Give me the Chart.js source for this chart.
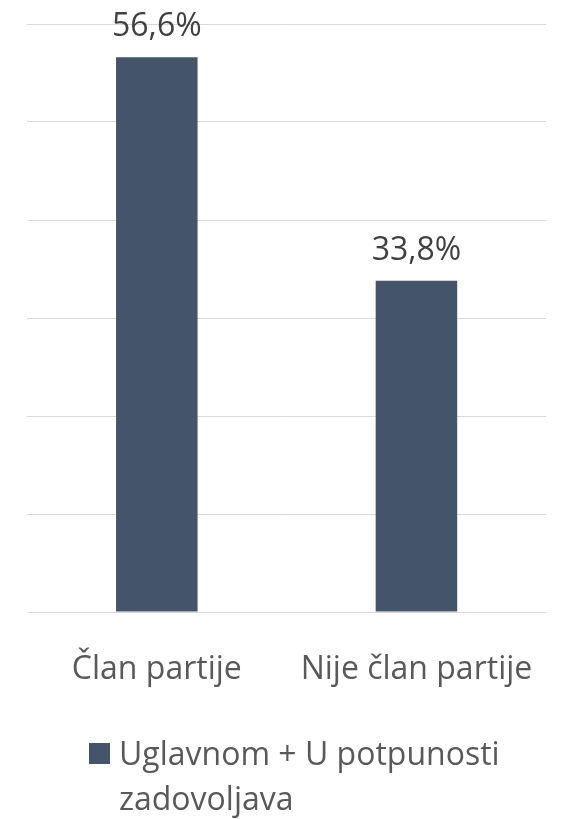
<!DOCTYPE html>
<html>
<head>
<meta charset="utf-8">
<script src="https://cdn.jsdelivr.net/npm/chart.js@4.4.1/dist/chart.umd.min.js"></script>
<style>
  html, body { margin: 0; padding: 0; background: #fff; overflow: hidden; }
  #chart { display: block; }
</style>
</head>
<body>
<canvas id="chart" width="566" height="819"></canvas>
<script>
const categories = ["Član partije", "Nije član partije"];
const seriesLabel = "Uglavnom + U potpunosti zadovoljava";
const seriesValues = [56.6, 33.8];
const yTicks = [0, 10, 20, 30, 40, 50, 60];

const FONT = "'Open Sans', 'Noto Sans', sans-serif";
const BAR_COLOR = "#44546A";

const fmtPct = v => v.toFixed(1).replace(".", ",") + "%";

// value labels above the bars
const valueLabels = {
    id: "valueLabels",
    afterDatasetsDraw(chart) {
        const ctx = chart.ctx;
        ctx.save();
        ctx.font = "32px " + FONT;
        ctx.fillStyle = "#404040";
        ctx.textAlign = "center";
        ctx.textBaseline = "alphabetic";
        chart.getDatasetMeta(0).data.forEach((bar, i) => {
            ctx.fillText(fmtPct(chart.data.datasets[0].data[i]), bar.x, bar.y - 21);
        });
        ctx.restore();
    },
};

// legend drawn by hand so the label can wrap onto two lines
const wrapLegend = {
    id: "wrapLegend",
    afterDraw(chart) {
        const ctx = chart.ctx;
        const ds = chart.data.datasets[0];
        ctx.save();
        ctx.fillStyle = ds.backgroundColor;
        ctx.fillRect(89, 743, 21, 21);
        ctx.font = "32px " + FONT;
        ctx.fillStyle = "#595959";
        ctx.textAlign = "left";
        ctx.textBaseline = "alphabetic";
        const maxW = 420;
        const lines = [];
        let line = "";
        ds.label.split(" ").forEach(w => {
            const test = line ? line + " " + w : w;
            if (ctx.measureText(test).width > maxW && line) {
                lines.push(line);
                line = w;
            } else {
                line = test;
            }
        });
        if (line) lines.push(line);
        lines.forEach((l, i) => ctx.fillText(l, 119, 765 + i * 45));
        ctx.restore();
    },
};

new Chart(document.getElementById("chart"), {
    type: "bar",
    data: {
        labels: categories,
        datasets: [{
            label: seriesLabel,
            data: seriesValues,
            backgroundColor: BAR_COLOR,
            barPercentage: 1,
            categoryPercentage: 0.314,
        }],
    },
    options: {
        responsive: false,
        animation: false,
        devicePixelRatio: 1,
        layout: { padding: { left: 27, right: 11, top: 24, bottom: 0 } },
        plugins: {
            legend: { display: false },
            tooltip: { enabled: false },
        },
        scales: {
            x: {
                grid: { display: false },
                border: { display: false },
                ticks: {
                    color: "#595959",
                    font: { family: FONT, size: 32 },
                    padding: 31,
                    maxRotation: 0,
                },
                afterFit: s => { s.height = 207; },
            },
            y: {
                min: yTicks[0],
                max: yTicks[yTicks.length - 1],
                afterBuildTicks: s => { s.ticks = yTicks.map(v => ({ value: v })); },
                ticks: { display: false },
                grid: { color: "#D9D9D9", lineWidth: 1, drawTicks: false },
                border: { display: false },
                afterFit: s => { s.width = 0; },
            },
        },
    },
    plugins: [valueLabels, wrapLegend],
});
</script>
</body>
</html>
